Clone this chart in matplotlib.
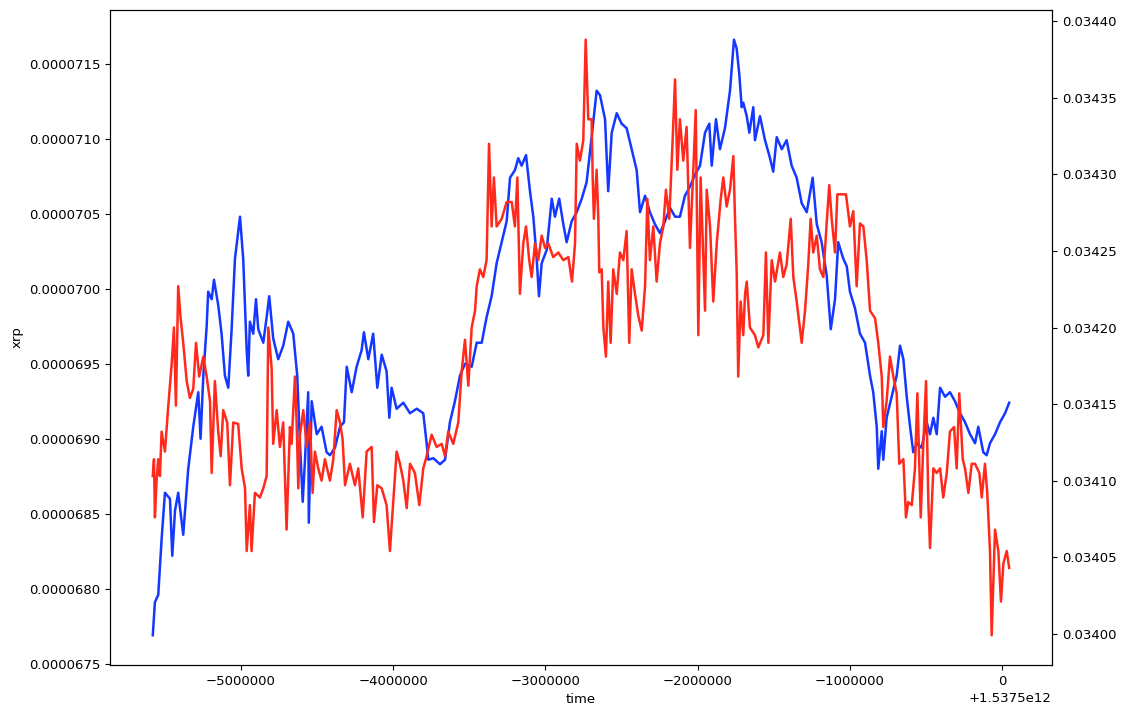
import matplotlib
matplotlib.use("Agg")
import matplotlib.pyplot as plt
import numpy as np

plt.rcParams.update({"font.size": 9.5})

T0 = 1.5375e12  # ms

# time offsets in thousands of ms relative to T0, prices
BLUE_T = [-5579, -5565, -5543, -5521, -5499, -5466, -5451, -5433, -5412, -5379,
          -5346, -5313, -5280, -5265, -5247, -5225, -5215, -5192, -5177, -5149,
          -5127, -5105, -5083, -5061, -5039, -5006, -4985, -4962, -4952, -4941,
          -4919, -4901, -4886, -4853, -4831, -4814, -4788, -4755, -4722, -4689,
          -4656, -4630, -4612, -4594, -4579, -4558, -4554, -4535, -4502, -4470,
          -4437, -4415, -4382, -4349, -4323, -4305, -4272, -4240, -4207, -4192,
          -4163, -4131, -4104, -4075, -4043, -4025, -4010, -3977, -3933, -3889,
          -3845, -3802, -3780, -3769, -3736, -3692, -3659, -3627, -3594, -3561,
          -3528, -3484, -3451, -3418, -3386, -3353, -3320, -3287, -3254, -3232,
          -3200, -3178, -3156, -3127, -3101, -3079, -3057, -3042, -3024, -2991,
          -2958, -2937, -2909, -2882, -2860, -2827, -2794, -2761, -2729, -2696,
          -2663, -2641, -2608, -2587, -2564, -2531, -2499, -2466, -2433, -2400,
          -2378, -2345, -2313, -2280, -2247, -2214, -2181, -2148, -2116, -2083,
          -2050, -2017, -1984, -1951, -1923, -1907, -1879, -1853, -1820, -1787,
          -1761, -1743, -1726, -1710, -1700, -1677, -1660, -1634, -1623, -1590,
          -1557, -1524, -1503, -1480, -1447, -1415, -1382, -1349, -1316, -1283,
          -1244, -1217, -1185, -1152, -1125, -1097, -1076, -1043, -1020, -999,
          -966, -933, -900, -867, -846, -823, -813, -790, -780, -758,
          -725, -692, -670, -648, -626, -604, -583, -560, -528, -495,
          -473, -451, -429, -407, -374, -342, -309, -276, -243, -210,
          -177, -156, -123, -101, -79, -46, -13, 20, 47]
BLUE_V = [676.9, 679.1, 679.6, 683.3, 686.4, 686.0, 682.2, 685.2, 686.4, 683.6,
          688.0, 690.8, 693.1, 690.0, 694.2, 697.5, 699.8, 699.3, 700.6, 698.9,
          697.0, 694.2, 693.4, 697.3, 702.0, 704.8, 702.0, 695.9, 694.2, 697.8,
          697.0, 699.3, 697.3, 696.4, 698.1, 699.5, 696.7, 695.3, 696.2, 697.8,
          697.0, 694.2, 689.7, 685.8, 688.6, 693.1, 684.4, 692.5, 690.3, 690.8,
          689.1, 688.9, 689.4, 690.8, 691.1, 694.8, 693.1, 694.8, 695.9, 697.1,
          695.3, 697.0, 693.4, 695.6, 694.5, 691.4, 693.4, 692.0, 692.4, 691.7,
          692.0, 691.7, 689.7, 688.6, 688.7, 688.3, 688.6, 691.1, 692.5, 694.2,
          695.0, 694.8, 696.4, 696.4, 698.1, 699.5, 701.7, 703.1, 704.5, 707.4,
          707.9, 708.7, 708.2, 708.9, 706.5, 704.8, 702.0, 699.5, 701.7, 702.6,
          706.0, 704.8, 706.0, 704.3, 703.1, 704.5, 705.1, 706.0, 707.1, 710.1,
          713.2, 712.9, 711.3, 706.5, 710.4, 711.7, 711.0, 710.7, 709.3, 707.9,
          705.1, 706.2, 705.1, 704.3, 703.7, 704.5, 705.4, 704.8, 704.8, 706.2,
          706.8, 707.6, 708.2, 710.4, 711.0, 708.2, 711.3, 709.3, 710.7, 713.2,
          716.6, 716.0, 714.3, 712.1, 712.4, 711.5, 710.4, 712.1, 709.9, 711.5,
          709.9, 708.7, 707.8, 710.1, 709.3, 709.9, 708.2, 707.4, 705.7, 705.1,
          707.4, 704.3, 703.1, 700.9, 697.3, 699.3, 703.1, 702.0, 701.5, 699.8,
          698.7, 697.0, 696.4, 694.2, 693.1, 690.8, 688.0, 690.5, 688.6, 691.4,
          692.8, 694.2, 696.2, 695.3, 692.8, 690.8, 689.1, 689.7, 689.4, 691.1,
          690.3, 691.4, 690.3, 693.4, 692.8, 693.1, 692.5, 691.7, 691.1, 690.3,
          689.7, 690.8, 689.1, 688.9, 689.7, 690.3, 691.1, 691.7, 692.4]  # x1e-7

RED_T = [-5579, -5571, -5565, -5554, -5543, -5532, -5521, -5499, -5477, -5455,
         -5440, -5427, -5412, -5396, -5379, -5356, -5335, -5313, -5295, -5274,
         -5247, -5225, -5203, -5192, -5171, -5149, -5133, -5116, -5090, -5072,
         -5050, -5018, -4995, -4973, -4962, -4941, -4930, -4908, -4875, -4853,
         -4831, -4820, -4798, -4788, -4765, -4744, -4722, -4700, -4678, -4667,
         -4645, -4634, -4623, -4612, -4590, -4568, -4546, -4529, -4514, -4492,
         -4470, -4448, -4415, -4393, -4371, -4349, -4332, -4316, -4284, -4251,
         -4229, -4200, -4174, -4141, -4126, -4104, -4075, -4043, -4021, -3999,
         -3977, -3955, -3933, -3911, -3889, -3857, -3828, -3802, -3780, -3747,
         -3714, -3681, -3659, -3638, -3605, -3572, -3550, -3528, -3506, -3484,
         -3462, -3451, -3430, -3408, -3386, -3370, -3353, -3338, -3320, -3287,
         -3254, -3221, -3200, -3184, -3167, -3145, -3127, -3106, -3090, -3068,
         -3047, -3024, -3002, -2981, -2948, -2915, -2882, -2849, -2825, -2805,
         -2794, -2773, -2751, -2735, -2718, -2696, -2689, -2681, -2663, -2652,
         -2646, -2630, -2619, -2602, -2587, -2571, -2554, -2531, -2510, -2488,
         -2466, -2449, -2433, -2411, -2390, -2367, -2345, -2330, -2313, -2291,
         -2269, -2247, -2225, -2208, -2186, -2164, -2148, -2133, -2116, -2094,
         -2072, -2050, -2028, -2012, -1995, -1980, -1962, -1951, -1940, -1918,
         -1897, -1874, -1848, -1831, -1809, -1787, -1765, -1754, -1743, -1733,
         -1717, -1700, -1688, -1677, -1656, -1623, -1601, -1568, -1551, -1535,
         -1513, -1491, -1459, -1437, -1415, -1388, -1371, -1349, -1316, -1294,
         -1273, -1257, -1240, -1217, -1196, -1174, -1152, -1135, -1119, -1097,
         -1082, -1053, -1025, -999, -977, -955, -933, -911, -889, -867,
         -834, -813, -790, -780, -758, -736, -714, -692, -675, -648,
         -631, -616, -593, -572, -556, -534, -517, -499, -484, -473,
         -451, -429, -407, -386, -363, -342, -315, -298, -281, -258,
         -243, -221, -199, -177, -149, -133, -112, -97, -79, -68,
         -46, -24, -7, 9, 31, 47]
RED_V = [3410.3, 3411.4, 3407.6, 3410.0, 3411.4, 3410.3, 3413.2, 3411.9, 3414.9, 3417.6,
         3420.0, 3414.9, 3422.7, 3420.6, 3419.0, 3416.5, 3415.4, 3416.0, 3419.0, 3416.8,
         3418.1, 3416.8, 3415.2, 3410.5, 3416.5, 3413.2, 3411.6, 3414.6, 3413.8, 3409.7,
         3413.8, 3413.7, 3410.8, 3409.5, 3405.4, 3408.4, 3405.4, 3409.2, 3408.9, 3409.5,
         3410.3, 3420.0, 3417.3, 3412.4, 3414.6, 3412.2, 3413.8, 3406.8, 3413.5, 3412.4,
         3416.8, 3413.8, 3409.5, 3413.0, 3414.6, 3412.2, 3413.8, 3409.2, 3411.9, 3410.8,
         3410.0, 3411.4, 3410.0, 3411.4, 3414.6, 3413.8, 3412.7, 3409.7, 3411.1, 3409.7,
         3410.8, 3407.6, 3411.9, 3412.2, 3407.3, 3409.7, 3409.5, 3408.4, 3405.4, 3408.6,
         3411.9, 3411.1, 3410.0, 3408.2, 3411.1, 3410.5, 3408.4, 3410.8, 3411.6, 3413.0,
         3412.2, 3412.4, 3411.6, 3413.2, 3412.4, 3413.8, 3417.1, 3419.2, 3416.2, 3420.0,
         3421.1, 3422.7, 3423.8, 3423.3, 3424.4, 3432.0, 3426.6, 3429.8, 3426.6, 3427.1,
         3428.2, 3428.2, 3426.6, 3429.8, 3422.2, 3425.5, 3426.6, 3424.4, 3423.3, 3425.5,
         3424.4, 3426.0, 3425.2, 3425.5, 3424.6, 3424.9, 3424.4, 3424.6, 3423.0, 3425.5,
         3432.0, 3430.9, 3432.2, 3438.8, 3433.6, 3433.6, 3429.8, 3427.1, 3430.3, 3427.1,
         3423.6, 3423.8, 3420.0, 3418.1, 3423.0, 3419.0, 3423.8, 3422.2, 3424.9, 3424.4,
         3426.3, 3419.0, 3423.8, 3422.2, 3420.8, 3419.8, 3422.7, 3428.4, 3424.4, 3426.6,
         3423.0, 3425.5, 3426.6, 3429.0, 3427.1, 3432.2, 3436.2, 3430.3, 3433.6, 3430.9,
         3433.1, 3425.2, 3430.3, 3434.2, 3419.5, 3429.8, 3424.4, 3421.1, 3429.0, 3426.6,
         3421.7, 3425.5, 3428.4, 3429.8, 3427.9, 3429.0, 3431.2, 3427.1, 3423.6, 3416.8,
         3421.7, 3419.5, 3422.2, 3423.0, 3420.0, 3419.5, 3418.7, 3419.5, 3424.9, 3419.0,
         3424.4, 3423.0, 3424.9, 3423.3, 3424.1, 3427.1, 3423.3, 3421.7, 3419.0, 3421.1,
         3424.1, 3427.1, 3424.9, 3426.0, 3423.8, 3423.3, 3426.8, 3429.3, 3427.1, 3424.9,
         3428.7, 3428.7, 3428.7, 3426.6, 3427.6, 3422.7, 3426.8, 3426.6, 3424.4, 3421.1,
         3420.6, 3419.0, 3416.8, 3413.5, 3415.2, 3418.1, 3416.8, 3415.7, 3411.1, 3411.4,
         3407.6, 3408.6, 3408.4, 3410.8, 3415.7, 3407.6, 3412.4, 3416.5, 3408.6, 3405.6,
         3410.8, 3410.5, 3410.8, 3408.9, 3410.5, 3413.2, 3413.5, 3410.8, 3415.7, 3411.4,
         3410.8, 3409.2, 3411.1, 3411.1, 3410.5, 3408.9, 3411.1, 3409.2, 3405.4, 3399.9,
         3406.8, 3405.4, 3402.1, 3404.6, 3405.4, 3404.3]  # x1e-5

BLUE = "#1438ff"
RED = "#ff2a1c"

bx = T0 + np.array(BLUE_T) * 1000.0
by = np.array(BLUE_V) * 1e-7
rx = T0 + np.array(RED_T) * 1000.0
ry = np.array(RED_V) * 1e-5

fig = plt.figure(figsize=(11.22, 7.06), dpi=100)
ax = fig.add_axes([0.098, 0.058, 0.8396, 0.928])
ax.plot(bx, by, color=BLUE, lw=1.8)
ax.set_xlabel("time")
ax.set_ylabel("xrp")
ax.ticklabel_format(axis="y", style="plain", useOffset=False)
ax.ticklabel_format(axis="x", scilimits=(-5, 8))

ax2 = ax.twinx()
ax2.plot(rx, ry, color=RED, lw=1.8)
ax2.ticklabel_format(axis="y", style="plain", useOffset=False)

fig.savefig("out.png", dpi=100)
